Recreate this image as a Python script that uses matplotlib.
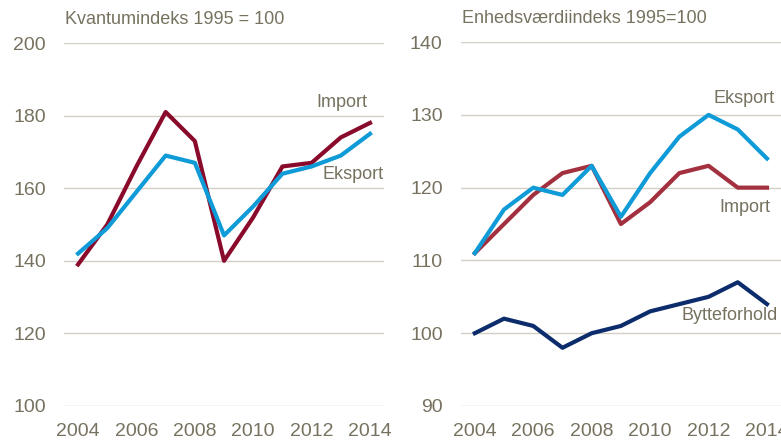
import matplotlib
matplotlib.use("Agg")
import matplotlib.pyplot as plt

# data
years = [2004, 2005, 2006, 2007, 2008, 2009, 2010, 2011, 2012, 2013, 2014]

# Kvantumindeks
kv_import = [139, 150, 166, 181, 173, 140, 152, 166, 167, 174, 178]
kv_eksport = [142, 149, 159, 169, 167, 147, 155, 164, 166, 169, 175]

# Enhedsværdiindeks
ev_eksport = [111, 117, 120, 119, 123, 116, 122, 127, 130, 128, 124]
ev_import = [111, 115, 119, 122, 123, 115, 118, 122, 123, 120, 120]
bytteforhold = [100, 102, 101, 98, 100, 101, 103, 104, 105, 107, 104]

xticks = [2004, 2006, 2008, 2010, 2012, 2014]

plt.rcParams['font.family'] = ['Liberation Sans', 'DejaVu Sans']

txt = '#77725f'
grid = '#d3cfc4'

fig = plt.figure(figsize=(7.81, 4.44), dpi=100)
ax1 = fig.add_axes([0.082, 0.0856, 0.4097, 0.8174])
ax2 = fig.add_axes([0.590, 0.0856, 0.410, 0.8196])


def style(ax, ylo, yhi, step):
    ax.set_ylim(ylo, yhi)
    ax.set_yticks(range(ylo, yhi + 1, step))
    ax.set_xlim(2003.52, 2014.48)
    ax.set_xticks(xticks)
    ax.grid(axis='y', color=grid, linewidth=1)
    ax.set_axisbelow(True)
    for s in ax.spines.values():
        s.set_visible(False)
    ax.tick_params(axis='both', length=0, labelsize=14, labelcolor=txt)
    ax.tick_params(axis='y', pad=13)
    ax.tick_params(axis='x', pad=12)


# left panel
ax1.plot(years, kv_import, color='#8a0a2c', linewidth=3)
ax1.plot(years, kv_eksport, color='#0f9bd7', linewidth=3)
style(ax1, 100, 200, 20)
ax1.text(2003.55, 206.5, 'Kvantumindeks 1995 = 100', fontsize=13, color=txt, va='center')
ax1.text(2013.04, 183.7, 'Import', fontsize=13, color=txt, ha='center', va='center')
ax1.text(2013.43, 163.9, 'Eksport', fontsize=13, color=txt, ha='center', va='center')

# right panel
ax2.plot(years, ev_import, color='#a3303f', linewidth=3)
ax2.plot(years, ev_eksport, color='#0f9bd7', linewidth=3)
ax2.plot(years, bytteforhold, color='#0c2c6c', linewidth=3)
style(ax2, 90, 140, 10)
ax2.text(2003.55, 143.3, 'Enhedsværdiindeks 1995=100', fontsize=13, color=txt, va='center')
ax2.text(2013.23, 132.3, 'Eksport', fontsize=13, color=txt, ha='center', va='center')
ax2.text(2013.23, 117.3, 'Import', fontsize=13, color=txt, ha='center', va='center')
ax2.text(2012.71, 102.5, 'Bytteforhold', fontsize=13, color=txt, ha='center', va='center')

fig.savefig('out.png', dpi=100)
